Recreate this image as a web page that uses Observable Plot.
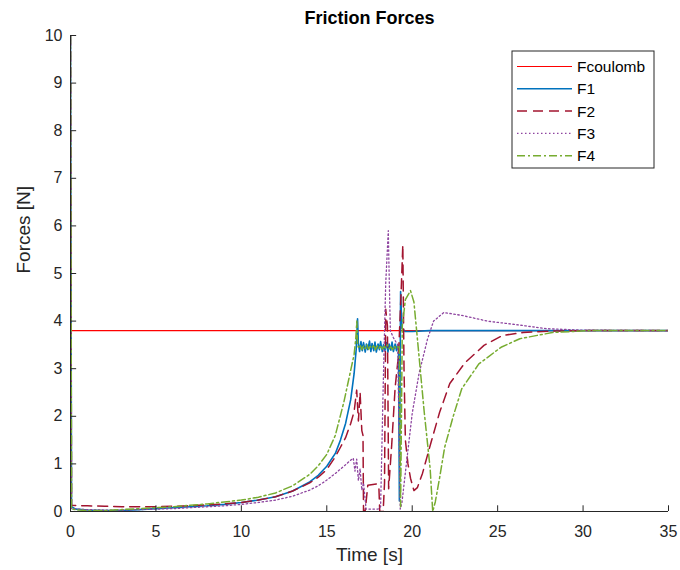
<!DOCTYPE html>
<html><head><meta charset="utf-8">
<script src="https://cdn.jsdelivr.net/npm/d3@7"></script>
<script src="https://cdn.jsdelivr.net/npm/@observablehq/plot@0.6"></script>
<style>body{margin:0;background:#fff;}</style>
</head><body><div id="chart"></div>
<script>
const xTicks = [0, 5, 10, 15, 20, 25, 30, 35];
const yTicks = [0, 1, 2, 3, 4, 5, 6, 7, 8, 9, 10];
const seriesNames = ["Fcoulomb", "F1", "F2", "F3", "F4"];

const tCoulomb = [0, 35];
const fCoulomb = [3.8, 3.8];

const tF1 = [0, 0.06, 0.3, 1, 2, 3, 4, 5, 6, 7, 8, 9, 10, 11, 12, 13, 14, 14.5, 15, 15.5, 15.8, 16.1, 16.4, 16.6, 16.72, 16.8,
  16.85, 16.92, 17.0, 17.08, 17.15, 17.25, 17.32, 17.4, 17.5, 17.58, 17.65, 17.75, 17.82, 17.9, 18.0, 18.08, 18.15, 18.25, 18.32, 18.4, 18.5, 18.58, 18.65, 18.75, 18.82, 18.9, 19.0, 19.08, 19.15,
  19.2, 19.25, 19.32, 19.4, 19.6, 20, 21, 25, 30, 35];
const fF1 = [10, 0.1, 0.05, 0.03, 0.02, 0.02, 0.04, 0.06, 0.08, 0.1, 0.12, 0.15, 0.19, 0.24, 0.31, 0.43, 0.62, 0.76, 0.95, 1.22, 1.5, 1.85, 2.35, 2.9, 3.4, 4.05,
  3.52, 3.36, 3.57, 3.38, 3.55, 3.35, 3.52, 3.4, 3.58, 3.36, 3.53, 3.38, 3.56, 3.35, 3.52, 3.4, 3.57, 3.36, 3.5, 3.38, 3.55, 3.35, 3.52, 3.39, 3.56, 3.36, 3.52, 3.38, 3.5,
  3.45, 0.22, 4.62, 3.85, 3.78, 3.78, 3.8, 3.8, 3.8, 3.8];

const tF2 = [0, 0.06, 0.5, 1, 2, 3, 4, 5, 6, 7, 8, 9, 10, 11, 12, 13, 14, 14.5, 15, 15.5, 15.8, 16.1, 16.4, 16.6, 16.75, 16.85, 16.95, 17.05, 17.12, 17.15, 17.25, 17.4, 17.9, 18.05, 18.1, 18.3, 18.38, 18.45, 18.55, 18.62, 18.8, 19.0, 19.2, 19.35, 19.45, 19.52, 19.6, 19.75, 19.9, 20.1, 20.3, 20.6, 21.1, 21.6, 22.2, 23.1, 24.2, 25.3, 26.5, 28, 30, 35];
const fF2 = [10, 0.13, 0.12, 0.12, 0.11, 0.1, 0.1, 0.1, 0.11, 0.12, 0.14, 0.16, 0.19, 0.24, 0.31, 0.43, 0.6, 0.72, 0.88, 1.15, 1.35, 1.55, 1.85, 2.1, 2.55, 1.9, 2.5, 1.7, 1.6, 0.0, 0.02, 0.55, 0.58, 0.5, 0.0, 0.0, 0.6, 4.25, 3.9, 0.48, 1.4, 2.6, 3.3, 4.6, 5.6, 3.0, 1.5, 1.0, 0.7, 0.44, 0.5, 0.8, 1.45, 2.08, 2.69, 3.13, 3.49, 3.7, 3.76, 3.79, 3.8, 3.8];

const tF3 = [0, 0.06, 0.5, 1, 2, 3, 4, 5, 6, 7, 8, 9, 10, 11, 12, 13, 14, 14.5, 15, 15.5, 16, 16.3, 16.55, 16.65, 16.75, 16.85, 16.95, 17.05, 17.15, 17.3, 18.0, 18.15, 18.3, 18.45, 18.6, 18.66, 18.72, 18.9, 19.15, 19.3, 19.4, 19.7, 20.0, 20.4, 20.9, 21.25, 21.85, 22.9, 24.4, 26.2, 27.9, 30, 35];
const fF3 = [10, 0.06, 0.05, 0.04, 0.03, 0.03, 0.04, 0.05, 0.06, 0.08, 0.1, 0.12, 0.15, 0.19, 0.24, 0.32, 0.45, 0.54, 0.66, 0.8, 0.95, 1.05, 1.12, 0.85, 1.1, 0.65, 0.9, 0.45, 0.6, 0.05, 0.05, 0.1, 2.6, 4.8, 5.9, 4.8, 3.8, 3.65, 3.5, 0.05, 0.19, 1.13, 2.06, 2.9, 3.63, 4.0, 4.18, 4.12, 4.0, 3.92, 3.84, 3.81, 3.8];

const tF4 = [0, 0.06, 0.5, 1, 2, 3, 4, 5, 6, 7, 8, 9, 10, 11, 12, 13, 14, 14.5, 15, 15.5, 16, 16.3, 16.6, 16.7, 16.76, 16.8,
  16.85, 16.95, 17.05, 17.15, 17.25, 17.35, 17.45, 17.55, 17.65, 17.75, 17.85, 17.95, 18.05, 18.15, 18.25, 18.35, 18.45, 18.55, 18.65, 18.75, 18.85, 18.95, 19.05, 19.15,
  19.25, 19.32, 19.42, 19.6, 19.9, 20.1, 20.35, 20.7, 21.05, 21.2, 21.35, 21.6, 21.9, 22.4, 22.9, 23.9, 25.2, 26.3, 28.2, 30.4, 35];
const fF4 = [10, 0.05, 0.03, 0.02, 0.02, 0.04, 0.06, 0.08, 0.1, 0.13, 0.16, 0.2, 0.24, 0.3, 0.39, 0.54, 0.78, 0.96, 1.2, 1.6, 2.3, 2.8, 3.3, 3.65, 4.0, 3.5,
  3.45, 3.5, 3.4, 3.48, 3.42, 3.5, 3.41, 3.47, 3.43, 3.5, 3.4, 3.48, 3.42, 3.49, 3.41, 3.47, 3.43, 3.5, 3.42, 3.46, 3.4, 3.48, 3.42, 3.46,
  3.45, 0.1, 3.9, 4.45, 4.64, 4.4, 3.45, 2.1, 0.9, 0.0, 0.2, 0.7, 1.35, 2.0, 2.58, 3.1, 3.45, 3.63, 3.76, 3.8, 3.8];

const seriesT = [tCoulomb, tF1, tF2, tF3, tF4];
const seriesF = [fCoulomb, fF1, fF2, fF3, fF4];

const styles = [
  {stroke: "#FF0000", width: 1.2, dash: null},
  {stroke: "#0072BD", width: 1.6, dash: null},
  {stroke: "#A2142F", width: 1.5, dash: "10,6"},
  {stroke: "#8E45A0", width: 1.3, dash: "1.5,2.5"},
  {stroke: "#77AC30", width: 1.5, dash: "8,3,2,3"}
];

const FONT = "'Liberation Sans', Arial, Helvetica, sans-serif";
const AXIS = "#262626";

const lineMarks = seriesNames.map((name, i) => {
  const rows = seriesT[i].map((t, j) => ({t, f: seriesF[i][j], name}));
  return Plot.line(rows, {
    x: "t", y: "f", stroke: styles[i].stroke, strokeWidth: styles[i].width,
    strokeDasharray: styles[i].dash, clip: true, strokeLinejoin: "round"
  });
});

function legend(index, scales, values, dims) {
  const x0 = dims.width - dims.marginRight - 156;
  const y0 = dims.marginTop + 16;
  const g = d3.create("svg:g").attr("font-family", FONT).attr("font-size", 15.5).attr("text-anchor", "start");
  g.append("rect").attr("x", x0).attr("y", y0).attr("width", 142).attr("height", 117)
    .attr("fill", "white").attr("stroke", AXIS).attr("stroke-width", 1);
  seriesNames.forEach((name, i) => {
    const y = y0 + 15.5 + i * 22.3;
    const ln = g.append("line").attr("x1", x0 + 5).attr("x2", x0 + 60).attr("y1", y).attr("y2", y)
      .attr("stroke", styles[i].stroke).attr("stroke-width", styles[i].width);
    if (styles[i].dash) ln.attr("stroke-dasharray", styles[i].dash);
    g.append("text").attr("x", x0 + 65).attr("y", y).attr("dy", "0.36em")
      .attr("text-anchor", "start").attr("fill", "#000").text(name);
  });
  return g.node();
}

const chart = Plot.plot({
  width: 680, height: 570,
  marginLeft: 70, marginRight: 12, marginTop: 35, marginBottom: 59,
  style: {fontFamily: FONT, fontSize: "16px", color: AXIS, background: "white"},
  x: {domain: [0, 35]},
  y: {domain: [0, 10]},
  marks: [
    Plot.axisX(xTicks, {tickSize: 0, tickPadding: 14, label: null, fontSize: 16}),
    Plot.axisY(yTicks, {tickSize: 0, tickPadding: 8, label: null, fontSize: 16}),
    ...lineMarks,
    Plot.ruleX(xTicks, {y1: 0, y2: 0.12, stroke: AXIS, strokeWidth: 1}),
    Plot.ruleY(yTicks, {x1: 0, x2: 0.36, stroke: AXIS, strokeWidth: 1}),
    Plot.ruleX([0], {stroke: AXIS, strokeWidth: 1}),
    Plot.ruleY([0], {stroke: AXIS, strokeWidth: 1}),
    Plot.text(["Friction Forces"], {frameAnchor: "top", dy: -17, fontWeight: "bold", fontSize: 18, fill: "#000", lineAnchor: "middle"}),
    Plot.text(["Time [s]"], {frameAnchor: "bottom", dy: 43, fontSize: 19, fill: AXIS, lineAnchor: "middle"}),
    Plot.text(["Forces [N]"], {frameAnchor: "left", dx: -47, rotate: -90, fontSize: 19, fill: AXIS, lineAnchor: "middle"}),
    legend
  ]
});
document.getElementById("chart").appendChild(chart);
</script>
</body></html>
